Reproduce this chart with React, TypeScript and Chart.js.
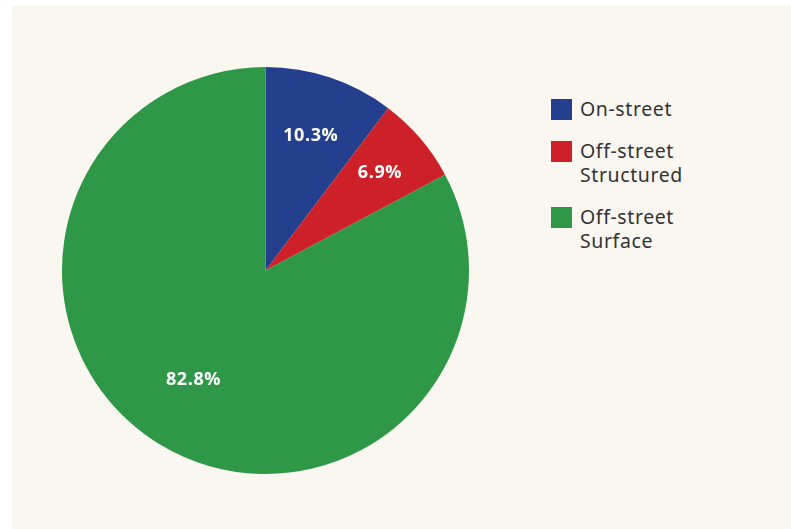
import React, { useEffect, useRef } from "react";
import { Chart, registerables } from "chart.js";

Chart.register(...registerables);

const categories = ["On-street", "Off-street Structured", "Off-street Surface"];
const legendLines = [["On-street"], ["Off-street", "Structured"], ["Off-street", "Surface"]];
const shares = [10.3, 6.9, 82.8];
const colors = ["#233f8e", "#cd2028", "#2e9848"];
const labelRadius = [0.7, 0.74, 0.645];

const labelPlugin = {
  id: "sliceLabels",
  afterDatasetsDraw(chart: any) {
    const ctx = chart.ctx;
    const meta = chart.getDatasetMeta(0);
    ctx.save();
    ctx.fillStyle = "#ffffff";
    ctx.font = "bold 18px 'Open Sans', sans-serif";
    try {
      ctx.letterSpacing = "0.6px";
    } catch (e) {}
    ctx.textAlign = "center";
    ctx.textBaseline = "middle";
    meta.data.forEach((arc: any, i: number) => {
      const { x, y, startAngle, endAngle, outerRadius } = arc.getProps(
        ["x", "y", "startAngle", "endAngle", "outerRadius"],
        true
      );
      const mid = (startAngle + endAngle) / 2 + (i === 2 ? 0.04 : 0);
      const r = outerRadius * labelRadius[i];
      ctx.fillText(shares[i].toFixed(1) + "%", x + Math.cos(mid) * r, y + Math.sin(mid) * r);
    });
    ctx.restore();
  },
};

export default function App() {
  const ref = useRef<HTMLCanvasElement>(null);
  useEffect(() => {
    document.body.style.margin = "0";
    const chart = new Chart(ref.current!, {
      type: "pie",
      data: {
        labels: categories,
        datasets: [
          {
            data: shares,
            backgroundColor: colors,
            borderWidth: 0,
          },
        ],
      },
      options: {
        animation: false,
        responsive: false,
        maintainAspectRatio: false,
        layout: { padding: 0 },
        plugins: { legend: { display: false }, tooltip: { enabled: false } },
      },
      plugins: [labelPlugin],
    });
    return () => chart.destroy();
  }, []);

  return (
    <div style={{ position: "relative", width: 791, height: 529, background: "#ffffff" }}>
      <div
        style={{
          position: "absolute",
          left: 12,
          top: 6,
          width: 779,
          height: 523,
          background: "#faf7f0",
        }}
      />
      <canvas
        ref={ref}
        width={407}
        height={407}
        style={{ position: "absolute", left: 62, top: 67, width: 407, height: 407 }}
      />
      <div
        style={{
          position: "absolute",
          left: 551,
          top: 97,
          fontFamily: "'Noto Sans', sans-serif",
          fontSize: 19.5,
          letterSpacing: "0.6px",
          color: "#333333",
          lineHeight: "24.5px",
        }}
      >
        {legendLines.map((lines, i) => (
          <div key={i} style={{ display: "flex", alignItems: "flex-start", marginBottom: 17 }}>
            <div
              style={{
                width: 21,
                height: 21,
                background: colors[i],
                marginTop: 2,
                marginRight: 8,
                flexShrink: 0,
              }}
            />
            <div>
              {lines.map((l, j) => (
                <div key={j}>{l}</div>
              ))}
            </div>
          </div>
        ))}
      </div>
    </div>
  );
}
